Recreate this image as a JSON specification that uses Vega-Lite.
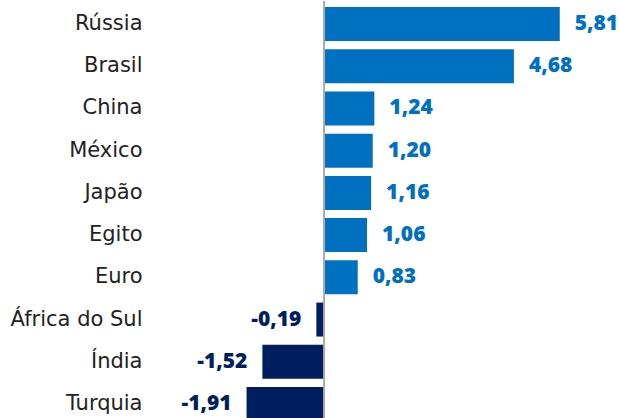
{
  "$schema": "https://vega.github.io/schema/vega-lite/v6.json",
  "width": 469,
  "height": 426,
  "padding": 0,
  "background": "white",
  "data": {"values": [
    {"pais": "Rússia", "valor": 5.81, "rotulo": "5,81"},
    {"pais": "Brasil", "valor": 4.68, "rotulo": "4,68"},
    {"pais": "China", "valor": 1.24, "rotulo": "1,24"},
    {"pais": "México", "valor": 1.20, "rotulo": "1,20"},
    {"pais": "Japão", "valor": 1.16, "rotulo": "1,16"},
    {"pais": "Egito", "valor": 1.06, "rotulo": "1,06"},
    {"pais": "Euro", "valor": 0.83, "rotulo": "0,83"},
    {"pais": "África do Sul", "valor": -0.19, "rotulo": "-0,19"},
    {"pais": "Índia", "valor": -1.52, "rotulo": "-1,52"},
    {"pais": "Turquia", "valor": -1.91, "rotulo": "-1,91"}
  ]},
  "config": {"view": {"stroke": null}, "font": "Open Sans"},
  "encoding": {
    "y": {
      "field": "pais", "type": "nominal", "sort": null,
      "scale": {"paddingInner": 0.195, "paddingOuter": 0.142},
      "axis": {"title": null, "ticks": false, "domain": false, "labelFontSize": 21, "labelColor": "#222222", "labelPadding": 8, "minExtent": 150, "maxExtent": 150, "labelFont": "DejaVu Sans"}
    }
  },
  "layer": [
    {
      "mark": {"type": "bar"},
      "encoding": {
        "x": {"field": "valor", "type": "quantitative", "scale": {"domain": [-4.29, 7.27], "nice": false, "zero": false}, "axis": null},
        "color": {"condition": {"test": "datum.valor < 0", "value": "#001F5F"}, "value": "#0070C0"}
      }
    },
    {
      "mark": {"type": "rule", "color": "#AAAAAA", "strokeWidth": 2},
      "data": {"values": [{"z": 0}]},
      "encoding": {"x": {"field": "z", "type": "quantitative"}, "y": null}
    },
    {
      "transform": [{"filter": "datum.valor >= 0"}],
      "mark": {"type": "text", "align": "left", "dx": 15, "fontSize": 21, "fontWeight": 800, "color": "#0070C0"},
      "encoding": {"x": {"field": "valor", "type": "quantitative"}, "text": {"field": "rotulo"}}
    },
    {
      "transform": [{"filter": "datum.valor < 0"}],
      "mark": {"type": "text", "align": "right", "dx": -15, "fontSize": 21, "fontWeight": 800, "color": "#001F5F"},
      "encoding": {"x": {"field": "valor", "type": "quantitative"}, "text": {"field": "rotulo"}}
    }
  ]
}
